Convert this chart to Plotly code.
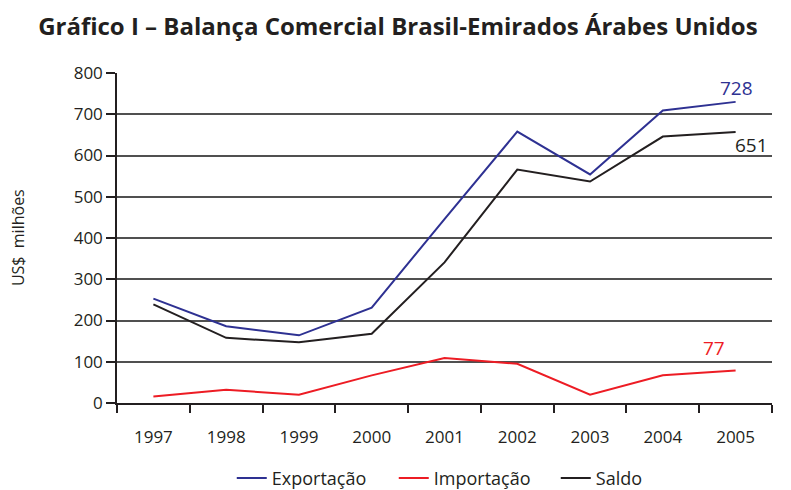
import plotly.graph_objects as go

anos = ['1997', '1998', '1999', '2000', '2001', '2002', '2003', '2004', '2005']
exportacao = [253, 186, 164, 231, 446, 658, 554, 709, 730]
importacao = [16, 32, 20, 67, 109, 95, 20, 67, 79]
saldo = [239, 158, 147, 168, 341, 566, 537, 646, 657]

rotulos_finais = ['728', '77', '651']

azul = '#2E3192'
vermelho = '#ED1C24'
preto = '#231F20'
fonte = 'Open Sans'

fig = go.Figure()
fig.add_trace(go.Scatter(x=anos, y=exportacao, mode='lines', name='Exportação',
                         line=dict(color=azul, width=2)))
fig.add_trace(go.Scatter(x=anos, y=importacao, mode='lines', name='Importação',
                         line=dict(color=vermelho, width=2)))
fig.add_trace(go.Scatter(x=anos, y=saldo, mode='lines', name='Saldo',
                         line=dict(color=preto, width=2)))

# rotulos do ultimo ano (x como indice da categoria)
ult = len(anos) - 1
fig.add_annotation(x=ult, y=exportacao[-1], text=rotulos_finais[0], showarrow=False,
                   yshift=14, xshift=1, font=dict(color=azul, size=19, family=fonte))
fig.add_annotation(x=ult, y=importacao[-1], text=rotulos_finais[1], showarrow=False,
                   yshift=22, xshift=-22, font=dict(color=vermelho, size=19, family=fonte))
fig.add_annotation(x=ult, y=saldo[-1], text=rotulos_finais[2], showarrow=False,
                   yshift=-13, xshift=16, font=dict(color=preto, size=19, family=fonte))

# titulo do eixo y
fig.add_annotation(xref='paper', yref='paper', x=-0.151, y=0.5, text='US$  milhões',
                   textangle=-90, showarrow=False, xanchor='center', yanchor='middle',
                   font=dict(size=16, family=fonte, color=preto))

fig.update_layout(
    width=791, height=490,
    paper_bgcolor='white', plot_bgcolor='white',
    margin=dict(l=117, r=19, t=73, b=87, autoexpand=False),
    font=dict(family=fonte, size=17, color='#231F20'),
    title=dict(text='<b>Gráfico I – Balança Comercial Brasil-Emirados Árabes Unidos</b>',
               x=0.503, xanchor='center', y=0.946, yanchor='middle',
               font=dict(size=24, family=fonte, color='#231F20')),
    showlegend=True,
    legend=dict(orientation='h', xref='container', yref='container',
                x=0.293, xanchor='left', y=0.024, yanchor='middle',
                font=dict(size=18, family=fonte), entrywidth=117, entrywidthmode='pixels'),
)
fig.update_xaxes(type='category', range=[-0.5, len(anos) - 0.5], showline=True,
                 linecolor=preto, linewidth=1.5, ticks='outside', tickson='boundaries',
                 ticklen=8, tickcolor=preto, tickwidth=1.5, showgrid=False, zeroline=False,
                 tickangle=0, ticklabelstandoff=18, automargin=False, fixedrange=True)
fig.update_yaxes(range=[0, 800], tickvals=[0, 100, 200, 300, 400, 500, 600, 700, 800],
                 showline=True, linecolor=preto, linewidth=1.5, ticks='outside',
                 ticklen=9, tickcolor=preto, tickwidth=1.5, showgrid=False, zeroline=False,
                 automargin=False, fixedrange=True,
                 minor=dict(tickvals=[100, 200, 300, 400, 500, 600, 700], showgrid=True,
                            gridcolor='#505050', gridwidth=1.5, ticks=''))

# tira a margem padrao do body para o grafico ocupar a janela toda
fig.write_html('out.html', config={'displayModeBar': False},
               post_script="document.body.style.margin='0';")
